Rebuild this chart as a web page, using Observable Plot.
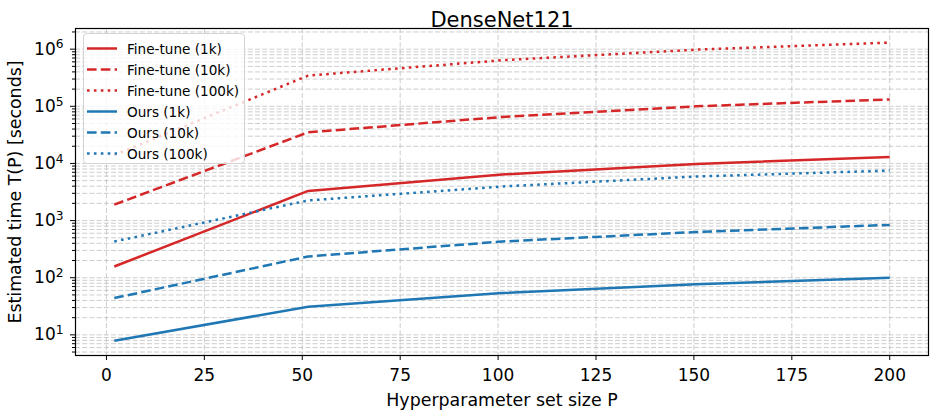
<!DOCTYPE html>
<html>
<head>
<meta charset="utf-8">
<script src="https://cdn.jsdelivr.net/npm/d3@7"></script>
<script src="https://cdn.jsdelivr.net/npm/@observablehq/plot@0.6"></script>
<style>
  body { margin: 0; background: #fff; font-family: "DejaVu Sans", sans-serif; }
  #chart { position: relative; width: 938px; height: 416px; }
  .legend {
    position: absolute; left: 83px; top: 33px; width: 162px; height: 131px;
    box-sizing: border-box; padding: 4px 0 0 3px;
    background: rgba(255,255,255,0.8); border: 1px solid #d4d4d4; border-radius: 4px;
    font-size: 13.6px; color: #000;
  }
  .legend .row { display: flex; align-items: center; height: 21px; }
  .legend svg { flex: none; }
  .legend span { margin-left: 10px; white-space: nowrap; }
</style>
</head>
<body>
<div id="chart"></div>
<script>
// Hyperparameter set sizes P
const P = [2, 51.5, 101, 150.5, 200];

// Estimated time T(P) in seconds
const fineTune1k   = [157, 3300, 6400, 9800, 12900];
const fineTune10k  = [1900, 35000, 65000, 100000, 132000];
const fineTune100k = [14000, 345000, 640000, 980000, 1300000];
const ours1k       = [7.9, 31, 54, 77, 100];
const ours10k      = [44, 235, 430, 630, 840];
const ours100k     = [430, 2250, 3950, 5900, 7500];

const seriesNames = ["Fine-tune (1k)", "Fine-tune (10k)", "Fine-tune (100k)", "Ours (1k)", "Ours (10k)", "Ours (100k)"];
const seriesValues = [fineTune1k, fineTune10k, fineTune100k, ours1k, ours10k, ours100k];

const xTicks = [0, 25, 50, 75, 100, 125, 150, 175, 200];
const yMajor = [1e1, 1e2, 1e3, 1e4, 1e5, 1e6];

const RED = "#d62728", BLUE = "#1f77b4";
const styles = [
  {stroke: RED, dash: null},
  {stroke: RED, dash: "9.6,4.2"},
  {stroke: RED, dash: "2.6,4.3"},
  {stroke: BLUE, dash: null},
  {stroke: BLUE, dash: "9.6,4.2"},
  {stroke: BLUE, dash: "2.6,4.3"}
];
const LW = 2.5;
const TICK_FONT = 17;

const yDomain = [4.35, 2.3e6];
const yMinor = [];
for (let k = 0; k <= 6; k++) for (let m = 2; m <= 9; m++) {
  const v = m * 10 ** k;
  if (v >= yDomain[0] && v <= yDomain[1]) yMinor.push(v);
}

const tables = seriesValues.map((vals, i) => P.map((p, j) => ({P: p, T: vals[j], series: seriesNames[i]})));

const gridStyle = {stroke: "#b8b8b8", strokeOpacity: 1, strokeWidth: 0.7, strokeDasharray: "5,2.2"};

const svg = Plot.plot({
  width: 938,
  height: 416,
  marginLeft: 75,
  marginRight: 10,
  marginTop: 28,
  marginBottom: 61,
  style: {fontFamily: "'DejaVu Sans', sans-serif", fontSize: "17px", color: "#000", background: "#fff"},
  x: {domain: [-7.9, 209.9]},
  y: {type: "log", domain: yDomain},
  marks: [
    Plot.gridY(yMinor, gridStyle),
    Plot.gridY(yMajor, gridStyle),
    Plot.gridX(xTicks, gridStyle),
    ...tables.map((t, i) => Plot.line(t, {
      x: "P", y: "T",
      stroke: styles[i].stroke,
      strokeWidth: LW,
      strokeDasharray: styles[i].dash,
      strokeLinecap: "butt"
    })),
    Plot.frame({stroke: "#000", strokeWidth: 1.2}),
    Plot.axisX(xTicks, {tickSize: 5, tickPadding: 8, label: null, fontSize: TICK_FONT, tickFormat: d => String(d)}),
    Plot.axisY(yMinor, {tickSize: 3, tickFormat: () => "", label: null}),
    Plot.axisY(yMajor, {tickSize: 5, tickPadding: 7, label: null, fontSize: TICK_FONT, tickFormat: d => String(Math.round(Math.log10(d)))}),
    Plot.text(["DenseNet121"], {frameAnchor: "top", dy: -16, fontSize: 21}),
    Plot.text(["Hyperparameter set size P"], {frameAnchor: "bottom", dy: 50, fontSize: 17.4}),
    Plot.text(["Estimated time T(P) [seconds]"], {frameAnchor: "left", dx: -60, rotate: -90, textAnchor: "middle", fontSize: 17.4})
  ]
});

// Tick label size, and the y labels as 10 with a raised exponent
d3.select(svg).selectAll('g[aria-label$="tick label"]').attr("font-size", TICK_FONT);
d3.select(svg).selectAll('g[aria-label="y-axis tick label"] text').each(function () {
  const e = this.textContent;
  if (!e) return;
  const t = d3.select(this);
  t.text("10");
  t.append("tspan").attr("dy", "-0.5em").attr("font-size", "0.72em").text(e);
});

const chart = document.getElementById("chart");
chart.appendChild(svg);

// Legend
const legend = document.createElement("div");
legend.className = "legend";
seriesNames.forEach((name, i) => {
  const row = document.createElement("div");
  row.className = "row";
  const s = d3.create("svg").attr("width", 30).attr("height", 21);
  s.append("line").attr("x1", 0).attr("x2", 30).attr("y1", 10.5).attr("y2", 10.5)
    .attr("stroke", styles[i].stroke).attr("stroke-width", LW)
    .attr("stroke-dasharray", styles[i].dash);
  row.appendChild(s.node());
  const label = document.createElement("span");
  label.textContent = name;
  row.appendChild(label);
  legend.appendChild(row);
});
chart.appendChild(legend);
</script>
</body>
</html>
